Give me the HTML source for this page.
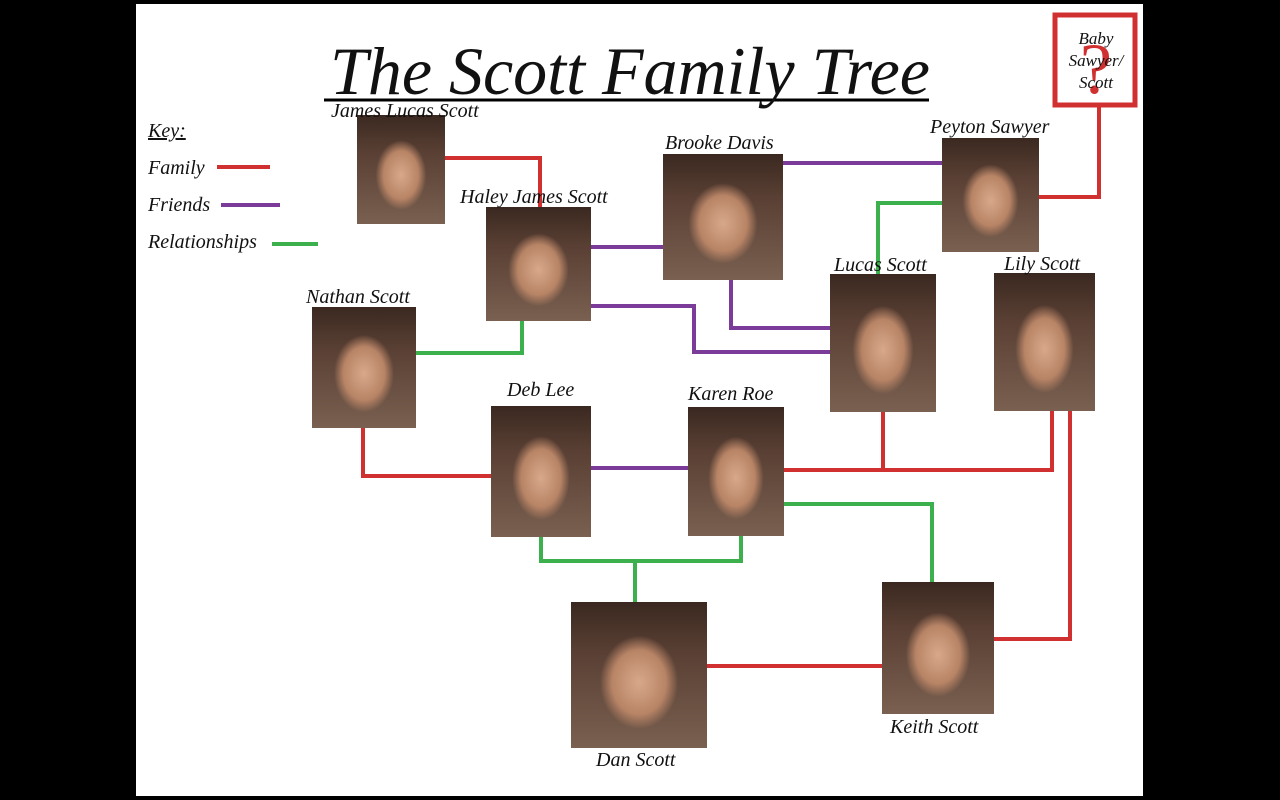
<!DOCTYPE html>
<html><head><meta charset="utf-8"><style>
body{margin:0;width:1280px;height:800px;background:#000;position:relative;overflow:hidden;font-family:"Liberation Serif",serif}
#pg{position:absolute;left:136px;top:4px;width:1007px;height:792px;background:#fff}
.p{position:absolute;background:radial-gradient(ellipse 36% 40% at 50% 55%,#d8a88a 0%,#b88466 55%,transparent 80%),linear-gradient(#3a2820 0%,#5a4034 35%,#7a6050 100%)}
.t{position:absolute;font-style:italic;font-size:20px;color:#111;white-space:nowrap}
svg{position:absolute;left:0;top:0}
</style></head><body>
<div id="pg"></div>
<svg width="1280" height="800" fill="none" stroke-width="4">
<g stroke="#d03030">
<polyline points="445,158 540,158 540,207"/>
<polyline points="1039,197 1099,197 1099,106"/>
<polyline points="363,428 363,476 491,476"/>
<polyline points="784,470 1052,470 1052,411"/>
<polyline points="883,412 883,470"/>
<polyline points="707,666 882,666"/>
<polyline points="994,639 1070,639 1070,411"/>
</g>
<g stroke="#7a3c98">
<polyline points="783,163 942,163"/>
<polyline points="591,247 663,247"/>
<polyline points="731,280 731,328 830,328"/>
<polyline points="591,306 694,306 694,352 830,352"/>
<polyline points="591,468 688,468"/>
</g>
<g stroke="#3cb04c">
<polyline points="942,203 878,203 878,274"/>
<polyline points="416,353 522,353 522,321"/>
<polyline points="541,537 541,561 741,561 741,536"/>
<polyline points="635,561 635,602"/>
<polyline points="784,504 932,504 932,582"/>
</g>
<line x1="217" y1="167" x2="270" y2="167" stroke="#d03030"/>
<line x1="221" y1="205" x2="280" y2="205" stroke="#7a3c98"/>
<line x1="272" y1="244" x2="318" y2="244" stroke="#3cb04c"/>
<rect x="1055" y="15" width="80" height="90" stroke="#d03030" stroke-width="5"/>
<line x1="324" y1="100" x2="929" y2="100" stroke="#000" stroke-width="3"/>
</svg>
<div class="t" style="left:330px;top:32px;font-size:68px;">The Scott Family Tree</div>
<div class="t" style="left:1080px;top:28px;font-size:72px;color:#d03030;font-style:normal">?</div>
<div class="t" style="left:1056px;top:28px;width:80px;text-align:center;font-size:17px;line-height:22px;white-space:normal">Baby Sawyer/ Scott</div>
<div class="t" style="left:148px;top:120px;text-decoration:underline">Key:</div>
<div class="t" style="left:148px;top:157px">Family</div>
<div class="t" style="left:148px;top:194px">Friends</div>
<div class="t" style="left:148px;top:231px">Relationships</div>
<div class="p" style="left:357px;top:115px;width:88px;height:109px"></div>
<div class="p" style="left:486px;top:207px;width:105px;height:114px"></div>
<div class="p" style="left:663px;top:154px;width:120px;height:126px"></div>
<div class="p" style="left:942px;top:138px;width:97px;height:114px"></div>
<div class="p" style="left:830px;top:274px;width:106px;height:138px"></div>
<div class="p" style="left:994px;top:273px;width:101px;height:138px"></div>
<div class="p" style="left:312px;top:307px;width:104px;height:121px"></div>
<div class="p" style="left:491px;top:406px;width:100px;height:131px"></div>
<div class="p" style="left:688px;top:407px;width:96px;height:129px"></div>
<div class="p" style="left:571px;top:602px;width:136px;height:146px"></div>
<div class="p" style="left:882px;top:582px;width:112px;height:132px"></div>
<div class="t" style="left:331px;top:100px">James Lucas Scott</div>
<div class="t" style="left:460px;top:186px">Haley James Scott</div>
<div class="t" style="left:665px;top:132px">Brooke Davis</div>
<div class="t" style="left:930px;top:116px">Peyton Sawyer</div>
<div class="t" style="left:834px;top:254px">Lucas Scott</div>
<div class="t" style="left:1004px;top:253px">Lily Scott</div>
<div class="t" style="left:306px;top:286px">Nathan Scott</div>
<div class="t" style="left:507px;top:379px">Deb Lee</div>
<div class="t" style="left:688px;top:383px">Karen Roe</div>
<div class="t" style="left:596px;top:749px">Dan Scott</div>
<div class="t" style="left:890px;top:716px">Keith Scott</div>
</body></html>
